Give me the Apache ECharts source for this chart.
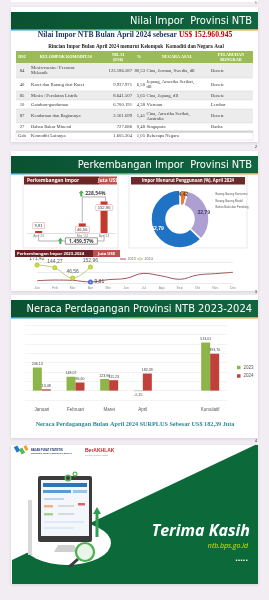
<!DOCTYPE html>
<html><head><meta charset="utf-8">
<script src="https://cdn.jsdelivr.net/npm/echarts@6/dist/echarts.min.js"></script>
<style>html,body{margin:0;padding:0;background:#f1edf2;}#c,#l{position:absolute;left:0;top:0;width:269px;height:600px;}</style>
</head><body><div id="c"></div><div id="l"></div>
<script>
// ---------------- DATA ----------------
const totalImport = 152960945;
const hs2 = ['84','40','85','10','87','27','Gab'];
const commodities = ['Mesin-mesin / Pesawat\nMekanik','Karet dan Barang dari Karet','Mesin / Peralatan Listrik','Gandum-ganduman','Kendaraan dan Bagiannya','Bahan Bakar Mineral','Komoditi Lainnya'];
const importValues = [123186587, 9937971, 8641507, 6700191, 2161699, 727686, 1605304];
const importShares = [80.53, 6.50, 5.65, 4.38, 1.41, 0.48, 1.05];
const originCountries = ['Cina, Jerman, Swedia, dll','Jepang, Amerika Serikat,\ndll','Cina, Jepang, dll','Vietnam','Cina, Amerika Serikat,\nAustralia','Singapura','Beberapa Negara'];
const ports = ['Benete','Benete','Benete','Lembar','Benete','Badas',''];

const impCats = ["Apr '23", "Mar '24", "Apr '24"];
const impVals = [9.81, 46.56, 152.96];
const growthTexts = ['228,54%', '1.459,57%'];

const useNames = ['Barang Barang Konsumsi', 'Barang Barang Modal', 'Bahan Baku dan Penolong'];
const useVals = [4.42, 32.79, 62.79];

const months = ['Jan','Feb','Mar','Apr','Mei','Jun','Jul','Agu','Sep','Okt','Nov','Des'];
const lineYears = ['2023', '2024'];
const imp2023 = [22, 28, 25, 9.81, 32, 44, 92, 67, 35, 76, 89, 102];
const imp2024 = [171.42, 144.27, 46.56, 152.96];

const neracaCats = ['Januari','Februari','Maret','April','','Kumulatif'];
const neraca2023 = [246.13, 148.07, 123.96, -5.15, null, 513.01];
const neraca2024 = [13.48, 86.60, 111.23, 182.39, null, 393.70];
const surplusApr = 182.39;

// ---------------- HELPERS ----------------
const fmt = v => (Math.round(v * 100) / 100).toFixed(2).replace('.', ',');
const thou = v => String(v).replace(/\B(?=(\d{3})+(?!\d))/g, '.');
const serif = "'Liberation Serif','DejaVu Serif',serif";
const narrow = "'Liberation Sans Narrow','DejaVu Sans Condensed','Roboto',sans-serif";
const sans = "'Open Sans','Noto Sans','Liberation Sans',sans-serif";

const G = [];
function shape(type, shp, style, z, extra) {
  const e = Object.assign({type, silent: true, z: z, shape: shp, style}, extra || {});
  G.push(e); return e;
}
function rect(x, y, w, h, fill, extra, z) {
  return shape('rect', {x, y, width: w, height: h}, Object.assign({fill}, extra || {}), z == null ? -2 : z);
}
function txt(text, x, y, o) {
  o = o || {};
  const st = {text, x, y, fill: o.color || '#333', fontSize: o.size || 5, fontFamily: o.family || sans,
    fontWeight: o.weight || 'normal', fontStyle: o.fstyle || 'normal',
    align: o.align || 'left', textAlign: o.align || 'left',
    verticalAlign: o.va || 'middle', textVerticalAlign: o.va || 'middle'};
  if (o.lh) st.lineHeight = o.lh;
  if (o.rich) st.rich = o.rich;
  G.push({type: 'text', silent: true, z: o.z || 20, style: st});
}
function line(x1, y1, x2, y2, color, w, z) {
  shape('line', {x1, y1, x2, y2}, {stroke: color, lineWidth: w}, z == null ? -1 : z);
}
function upArrow(cx, cy, color) {
  shape('polygon', {points: [[cx, cy - 3.2], [cx + 2.6, cy - 0.2], [cx + 1, cy - 0.2], [cx + 1, cy + 3], [cx - 1, cy + 3], [cx - 1, cy - 0.2], [cx - 2.6, cy - 0.2]]}, {fill: color}, 50);
}
const hGrad = (stops) => ({type: 'linear', x: 0, y: 0, x2: 1, y2: 0, colorStops: stops});

// ---------------- CARDS ----------------
rect(11, -10, 247, 12, '#ffffff', null, -3);
const cards = [{y: 7, h: 135}, {y: 151, h: 140}, {y: 295, h: 143}, {y: 445, h: 139}];
cards.forEach(c => rect(11, c.y, 247, c.h, '#ffffff', {shadowBlur: 3, shadowColor: 'rgba(0,0,0,0.12)', shadowOffsetY: 1}, -3));
['1', '2', '3', '4'].forEach((n, i) => txt(n, 256, [3, 147, 292, 441][i], {size: 4, color: '#222', align: 'center'}));

const headers = ['Nilai Impor  Provinsi NTB', 'Perkembangan Impor  Provinsi NTB', 'Neraca Perdagangan Provinsi NTB 2023-2024'];
headers.forEach((h, i) => {
  const y = cards[i].y + 5;
  rect(11, y, 247, 17, hGrad([{offset: 0, color: '#0a5232'}, {offset: 1, color: '#11653f'}]));
  rect(11, y + 17, 247, 1.6, hGrad([{offset: 0, color: '#1d9fd8'}, {offset: 0.35, color: '#2fa6a0'}, {offset: 0.55, color: '#6bb64a'}, {offset: 0.8, color: '#b9b23a'}, {offset: 1, color: '#f0a030'}]));
  txt(h, 252, y + 8.8, {size: 11, family: narrow, color: '#ffffff', align: 'right'});
});

// ---------------- CARD 1: TABLE ----------------
txt('{a|Nilai Impor NTB Bulan April 2024 sebesar }{b|US$ ' + thou(totalImport) + '}', 135, 35.5, {align: 'center',
  rich: {a: {fill: '#1f3864', color: '#1f3864', fontSize: 7.6, fontFamily: serif, fontWeight: 'bold'},
         b: {fill: '#c00000', color: '#c00000', fontSize: 7.6, fontFamily: serif, fontWeight: 'bold'}}});
txt('Rincian Impor Bulan April 2024 menurut Kelompok  Komoditi dan Negara Asal', 136, 46.5, {size: 5.1, family: serif, weight: 'bold', color: '#262626', align: 'center'});

rect(16, 51, 237, 12, '#9bbb59');
const hdr = {size: 4.2, family: serif, color: '#ffffff', weight: 'bold', lh: 5};
txt('HS2', 22, 57, Object.assign({align: 'center'}, hdr));
txt('KELOMPOK KOMODITAS', 66, 57, Object.assign({align: 'center'}, hdr));
txt('NILAI\n(US$)', 118, 57, Object.assign({align: 'center'}, hdr));
txt('%', 139, 57, Object.assign({align: 'center'}, hdr));
txt('NEGARA ASAL', 177, 57, Object.assign({align: 'center'}, hdr));
txt('PELABUHAN\nBONGKAR', 231, 57, Object.assign({align: 'center'}, hdr));

const rowTops = [63, 78, 91, 100, 109, 123, 131.5, 140];
const rowFills = ['#ececec', '#ffffff', '#ececec', '#ffffff', '#ececec', '#ffffff', '#ffffff'];
hs2.forEach((code, i) => {
  const t = rowTops[i], b = rowTops[i + 1], cy = (t + b) / 2;
  rect(16, t, 237, b - t, rowFills[i]);
  line(16, b, 253, b, '#d4d4d4', 0.5);
  const o = {size: 4.7, family: serif, color: '#3a3a3a', lh: 5.2};
  txt(code, 22, cy, Object.assign({align: 'center'}, o));
  txt(commodities[i], 31, cy, o);
  txt(thou(importValues[i]), 132, cy, Object.assign({align: 'right'}, o));
  txt(fmt(importShares[i]), 145, cy, Object.assign({align: 'right'}, o));
  txt(originCountries[i], 146.5, cy, o);
  txt(ports[i], 211, cy, o);
});
line(16, 131, 253, 131, '#a6a6a6', 0.5);
line(16, 132.3, 253, 132.3, '#a6a6a6', 0.5);
line(16, 131, 16, 140, '#d4d4d4', 0.5);
line(253, 131, 253, 140, '#d4d4d4', 0.5);

// ---------------- CARD 2 ----------------
rect(23, 175, 95, 73, '#fff', {stroke: '#d9d9d9', lineWidth: 0.6});
rect(24, 176.5, 75, 8, '#6f2424');
rect(99, 176.5, 18, 8, '#c0504d');
txt('Perkembangan Impor', 27, 180.6, {size: 4.8, weight: 'bold', color: '#fff'});
txt('Juta US$', 108, 180.6, {size: 4.8, weight: 'bold', color: '#fff', align: 'center'});
rect(129, 175, 118, 73, '#fff', {stroke: '#d9d9d9', lineWidth: 0.6});
rect(131, 177, 114, 7.5, '#6b2a2a');
txt('Impor Menurut Penggunaan (%), April 2024', 188, 180.8, {size: 4.3, weight: 'bold', color: '#fff', align: 'center'});
rect(15, 250, 78, 7, '#6b2024');
rect(93, 250, 27, 7, '#c0504d');
txt('Perkembangan Impor 2023-2024', 17, 253.6, {size: 4.2, weight: 'bold', color: '#fff'});
txt('Juta US$', 106.5, 253.6, {size: 4.2, weight: 'bold', color: '#fff', align: 'center'});
// legend of the line chart
line(120, 259, 126, 259, '#a4545d', 1, 5);
txt(lineYears[0], 127.5, 259.2, {size: 3.6, color: '#595959'});
line(137, 259, 143, 259, '#c2c67f', 1, 5);
shape('circle', {cx: 140, cy: 259, r: 1.3}, {fill: '#fff', stroke: '#b9be74', lineWidth: 0.7}, 6);
txt(lineYears[1], 144.5, 259.2, {size: 3.6, color: '#595959'});

// ---------------- CARD 3 caption ----------------
txt('Neraca Perdagangan Bulan April 2024 SURPLUS Sebesar US$ ' + fmt(surplusApr) + ' Juta', 135, 424, {size: 6.2, family: serif, weight: 'bold', color: '#2f8798', align: 'center'});

// ---------------- CARD 4 ----------------
shape('polygon', {points: [[255, 445], [258, 445], [258, 584], [12, 584], [12, 560]]}, {fill: '#0c6a3a'}, -2);
shape('circle', {cx: 0, cy: 0, r: 44}, {fill: '#ffffff'}, -1, {x: 67, y: 543, scaleY: 0.5});
shape('rect', {x: 28, y: 500, width: 4, height: 55}, {fill: '#d9d9d9'}, 0);
shape('polygon', {points: [[58, 545], [74, 545], [78, 552], [54, 552]]}, {fill: '#cfcfcf'}, 0);
shape('rect', {x: 38, y: 476, width: 54, height: 66, r: 2}, {fill: '#3b3b3b'}, 0);
shape('rect', {x: 41, y: 480, width: 48, height: 56}, {fill: '#f3f6fa'}, 0);
[[43, 483, 44, 4, '#2e75b6'], [43, 490, 28, 3, '#5b9bd5'], [73, 490, 14, 3, '#9dc3e6'], [44, 498, 20, 2, '#bdd7ee'], [44, 505, 9, 2.5, '#f4b183'], [44, 513, 9, 2.5, '#a9d18e'], [78, 503, 7, 2.5, '#e06666'], [58, 505, 16, 2, '#d9d9d9'], [58, 513, 16, 2, '#d9d9d9'], [44, 521, 40, 2, '#deebf7'], [44, 527, 30, 2, '#deebf7']].forEach(r => {
  shape('rect', {x: r[0], y: r[1], width: r[2], height: r[3]}, {fill: r[4]}, 1);
});
shape('ring', {cx: 68, cy: 478, r: 3.5, r0: 2}, {fill: '#5cb85c'}, 1);
shape('ring', {cx: 75, cy: 474, r: 2.5, r0: 1.3}, {fill: '#5cb85c'}, 1);
shape('rect', {x: 95.5, y: 513, width: 3, height: 24}, {fill: '#2e9e4f'}, 1);
shape('polygon', {points: [[93, 514], [97, 507], [101, 514]]}, {fill: '#2e9e4f'}, 1);
shape('rect', {x: 89.5, y: 523, width: 2.5, height: 14}, {fill: '#3b3b3b'}, 1);
shape('line', {x1: 78, y1: 559, x2: 69, y2: 567}, {stroke: '#3b3b3b', lineWidth: 3}, 1);
shape('circle', {cx: 85, cy: 552, r: 9}, {fill: '#e8f5e9', stroke: '#4caf50', lineWidth: 2.2}, 1);
shape('rect', {x: -2, y: -3, width: 4, height: 6}, {fill: '#1f78c8'}, 1, {x: 17, y: 449, rotation: 0.5});
shape('rect', {x: -2, y: -3, width: 4, height: 6}, {fill: '#5cb85c'}, 1, {x: 22, y: 451, rotation: 0.5});
shape('rect', {x: -1.5, y: -2.5, width: 3, height: 5}, {fill: '#f0a030'}, 1, {x: 26, y: 448, rotation: 0.5});
txt('BADAN PUSAT STATISTIK', 31, 450, {size: 2.6, weight: 'bold', color: '#1f3864'});
txt('PROVINSI NUSA TENGGARA BARAT', 31, 453.5, {size: 2.4, weight: 'bold', color: '#1f3864'});
txt('{a|Ber}{b|AKHLAK}', 85, 450.5, {rich: {a: {fontSize: 5, fontWeight: 'bold', fill: '#b11f24', color: '#b11f24'}, b: {fontSize: 5, fontWeight: 'bold', fill: '#d9262c', color: '#d9262c'}}});
txt('Bangga Melayani Bangsa', 85, 455, {size: 2, color: '#999'});
txt('Terima Kasih', 250, 531, {size: 16, weight: 'bold', fstyle: 'italic', color: '#ffffff', align: 'right'});
txt('ntb.bps.go.id', 248, 546, {size: 7, fstyle: 'italic', color: '#cfe600', align: 'right'});
txt('.....', 248, 558, {size: 9, weight: 'bold', color: '#ffffff', align: 'right'});

// ---------------- MAIN CHART ----------------
const chart = echarts.init(document.getElementById('c'), null, {renderer: 'canvas', width: 269, height: 600});
const axisCats = [impCats[0], '', impCats[1], impCats[2]];
const impData = [{value: impVals[0], label: {position: 'top', distance: 2.5}}, '-', impVals[1], impVals[2]];
const gridBase = {containLabel: false, outerBoundsMode: 'none'};

function buildOption() {
  return {
    backgroundColor: '#f1edf2',
    animation: false,
    graphic: {elements: G},
    grid: [
      Object.assign({left: 27.75, top: 200, width: 87.2, height: 33}, gridBase),
      Object.assign({left: 25, top: 325, width: 202, height: 75}, gridBase)
    ],
    xAxis: [
      {gridIndex: 0, type: 'category', data: axisCats, axisTick: {show: false}, axisLine: {lineStyle: {color: '#bfbfbf', width: 0.5}}, axisLabel: {fontSize: 3.4, color: '#7f7f7f', margin: 2, interval: 0}},
      {gridIndex: 1, type: 'category', data: neracaCats, axisLine: {show: false, onZero: false}, axisTick: {show: false}, axisLabel: {fontSize: 4.5, color: '#595959', margin: 7, interval: 0}}
    ],
    yAxis: [
      {gridIndex: 0, type: 'value', min: 0, max: 160, show: false},
      {gridIndex: 1, type: 'value', min: -100, max: 700, interval: 100, axisLabel: {show: false}, axisLine: {show: false}, axisTick: {show: false}, splitLine: {lineStyle: {color: '#e6e6e6', width: 0.5}}}
    ],
    legend: [
      {data: useNames, orient: 'vertical', left: 205, top: 187, itemWidth: 2.4, itemHeight: 2.4, itemGap: 2.2, icon: 'rect', textStyle: {fontSize: 2.8, color: '#595959', padding: [0, 0, 0, -3]}},
      {data: ['2023', '2024'], orient: 'vertical', left: 232, top: 360, icon: 'rect', itemWidth: 3.5, itemHeight: 3.5, itemGap: 3.5, textStyle: {fontSize: 4.5, color: '#595959', padding: [0, 0, 0, -2]}}
    ],
    series: [
      {name: 'impor', type: 'bar', xAxisIndex: 0, yAxisIndex: 0, barWidth: 7, data: impData,
       itemStyle: {color: '#c0392b'},
       label: {show: true, position: 'insideTop', distance: 3.5, fontSize: 4.2, color: '#404040', backgroundColor: '#ffffff', borderColor: '#d99694', borderWidth: 0.5, padding: [1, 1.5, 0.5, 1.5], formatter: p => fmt(p.value)}},
      {name: 'penggunaan', type: 'pie', center: [180, 219], radius: [14, 29], startAngle: 90, avoidLabelOverlap: false,
       itemStyle: {borderColor: '#ffffff', borderWidth: 1.5},
       label: {show: true, position: 'inside', fontSize: 5, fontWeight: 'bold', formatter: p => fmt(p.value)},
       labelLine: {show: false},
       data: useNames.map((n, i) => ({name: n, value: useVals[i],
         itemStyle: {color: ['#ee7d2f', '#ad9fd2', '#1f72c4'][i]},
         label: {color: ['#404040', '#3b3b6b', '#ffffff'][i]}}))},
      {name: '2023', type: 'bar', xAxisIndex: 1, yAxisIndex: 1, barWidth: 9, barGap: '0%',
       itemStyle: {color: '#8db54a'},
       label: {show: true, position: 'top', distance: 1.5, fontSize: 3.6, color: '#404040', formatter: p => fmt(p.value)},
       data: neraca2023.map(v => v === null ? '-' : (v < 0 ? {value: v, label: {position: 'bottom'}} : v))},
      {name: '2024', type: 'bar', xAxisIndex: 1, yAxisIndex: 1, barWidth: 9, barGap: '0%',
       itemStyle: {color: '#c0403a'},
       label: {show: true, position: 'top', distance: 1.5, fontSize: 3.6, color: '#404040', formatter: p => fmt(p.value)},
       data: neraca2024.map(v => v === null ? '-' : v)}
    ]
  };
}
chart.setOption(buildOption());

// growth annotations positioned via the bar chart's own scales
const px = (i, v) => chart.convertToPixel({xAxisIndex: 0, yAxisIndex: 0}, [i, v]);
const pA = px(0, impVals[0]), pM = px(2, impVals[1]), pP = px(3, impVals[2]), base = px(0, 0)[1];
const topY = pP[1] - 4.5;
shape('polyline', {points: [[pM[0], pM[1] - 1], [pM[0], topY], [pP[0] + 1.5, topY], [pP[0] + 1.5, pP[1] - 0.5]]}, {stroke: '#7f7f7f', lineWidth: 0.6, fill: null}, 40);
upArrow(pM[0] - 1, topY - 3.5, '#4caf50');
txt(growthTexts[0], pM[0] + 3, topY - 3.3, {size: 5, weight: 'bold', color: '#404040', z: 50});
const botY = base + 8;
shape('polyline', {points: [[pA[0], base + 1.5], [pA[0], botY], [pP[0], botY], [pP[0], base + 1.5]]}, {stroke: '#7f7f7f', lineWidth: 0.6, fill: null}, 40);
const midX = (pA[0] + pP[0]) / 2 + 10;
rect(midX - 16, botY - 3.2, 32, 6.4, '#ffffff', {stroke: '#595959', lineWidth: 0.6}, 45);
txt(growthTexts[1], midX, botY + 0.2, {size: 5, weight: 'bold', color: '#404040', align: 'center', z: 50});
upArrow(midX - 21, botY, '#4caf50');

chart.clear();
chart.setOption(buildOption());

// ---------------- LINE CHART (Perkembangan Impor 2023-2024) ----------------
const lineChart = echarts.init(document.getElementById('l'), null, {renderer: 'canvas', width: 269, height: 600});
lineChart.setOption({
  animation: false,
  grid: [{left: 37, top: 262, width: 196, height: 21, containLabel: false, outerBoundsMode: 'none'}],
  xAxis: [{gridIndex: 0, type: 'category', data: months, boundaryGap: false,
    axisLine: {lineStyle: {color: 'rgba(0,0,0,0)'}}, axisTick: {lineStyle: {color: 'rgba(0,0,0,0)'}},
    axisLabel: {fontSize: 3.4, color: '#8c8c8c', margin: 4}}],
  yAxis: [{gridIndex: 0, type: 'value', min: 0, max: 200, interval: 100,
    axisLabel: {color: 'rgba(0,0,0,0)'}, splitLine: {lineStyle: {color: '#ebebeb'}}}],
  series: [
    {name: lineYears[0], type: 'line', smooth: 0.4, symbol: 'none', z: 5, lineStyle: {color: '#a4545d', width: 1},
     data: imp2023.map((v, i) => i === 3 ? {value: v, symbol: 'emptyCircle', symbolSize: 3, label: {show: true, position: 'right', distance: 1.5, fontSize: 5, color: '#404040', formatter: p => fmt(p.value)}} : v)},
    {name: lineYears[1], type: 'line', smooth: 0.4, symbol: 'emptyCircle', symbolSize: 3, z: 6, lineStyle: {color: '#c2c67f', width: 1},
     label: {show: true, position: 'top', distance: 1.5, fontSize: 5, color: '#595959', formatter: p => fmt(p.value)},
     data: imp2024}
  ]
});
</script>
</body></html>
